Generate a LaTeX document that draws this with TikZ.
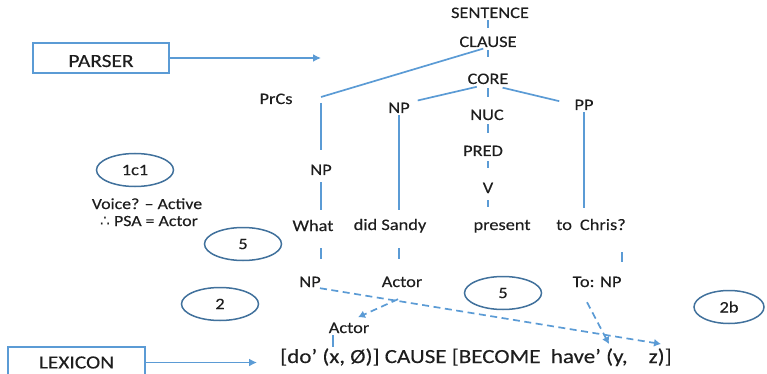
\documentclass[tikz,border=0pt]{standalone}
\usepackage{fontspec}
\setmainfont{Carlito}[FakeStretch=1.15,FakeBold=0.25]
\newfontfamily\symfont{DejaVu Sans}
\usetikzlibrary{arrows.meta,shapes.geometric}
\definecolor{lineblue}{HTML}{5B9BD5}
\definecolor{ringblue}{HTML}{41719C}
\definecolor{ink}{HTML}{1E1E1E}

\begin{document}
\begin{tikzpicture}[x=1pt,y=-1pt,
  every node/.style={text=ink, inner sep=0pt},
  lbl/.style={font=\fontsize{16}{16}\selectfont, text height=10.5pt, text depth=0pt, anchor=base},
  note/.style={font=\fontsize{15.5}{15.5}\selectfont, anchor=base},
  lsr/.style={font=\fontsize{20}{20}\selectfont, anchor=base west, text height=13pt, text depth=0pt},
  branch/.style={draw=lineblue, line width=1.7pt},
  link/.style={draw=lineblue, line width=1.7pt, dash pattern=on 7pt off 4.5pt, -{Latex[length=7pt,width=8pt]}},
  feed/.style={draw=lineblue, line width=1.7pt, -{Latex[length=8pt,width=8pt]}},
  module/.style={draw=lineblue, line width=1.6pt, minimum width=136pt, minimum height=30pt, font=\fontsize{18.6}{18.6}\selectfont},
  bubble/.style={ellipse, draw=ringblue, line width=1.5pt, minimum width=77pt, minimum height=33pt, font=\fontsize{16}{16}\selectfont},
]
\useasboundingbox (0,0) rectangle (767,374);

% tree labels
\node[lbl] (sentence) at (490,18) {SENTENCE};
\node[lbl] (clause) at (488,47) {CLAUSE};
\node[lbl] (core) at (488,84) {CORE};
\node[lbl] (np2) at (399,113) {NP};
\node[lbl] (nuc) at (487,120) {NUC};
\node[lbl] (pp) at (584,110) {PP};
\node[lbl] (pred) at (483,156) {PRED};
\node[lbl] (v) at (488,193) {V};
\node[lbl] (prcs) at (276,104) {PrCs};
\node[lbl] (np1) at (321,175) {NP};
\node[lbl] (what) at (313,231) {What};
\node[lbl] (sandy) at (390,230) {did Sandy};
\node[lbl] (present) at (502,230) {present};
\node[lbl] (chris) at (591,230) {to\hspace{8pt}Chris?};
\node[lbl] (np3) at (310,287) {NP};
\node[lbl] (actorU) at (402,287) {Actor};
\node[lbl] (tonp) at (597,287) {To: NP};
\node[lbl] (actorL) at (349,333) {Actor};
\node[lsr] (lsr) at (280,363) {[do’ (x, Ø)] CAUSE [BECOME\ \ have’ (y,\hspace{21pt}z)]};

% side notes
\node[note] (voice) at (147,209) {Voice? – Active};
\node[note] (psa) at (149,226) {{\symfont ∴} PSA = Actor};

% numbered steps
\node[bubble] (b1c1) at (135,170) {1c1};
\node[bubble] (b5a) at (243,244) {5};
\node[bubble] (b2) at (220,304) {2};
\node[bubble] (b5b) at (503,293) {5};
\node[bubble, minimum width=70pt] (b2b) at (729,307) {2b};

% modules
\node[module] (parser) at (101,58) {\raisebox{-3pt}[12pt][0pt]{PARSER}};
\node[module, minimum width=137pt, minimum height=31pt] (lexicon) at (76.5,362.5) {LEXICON};

% free ends
\coordinate (prcsjoin) at (321,97);
\coordinate (parserTip) at (321,59);
\coordinate (xarg) at (333,347);
\coordinate (yarg) at (609,344);
\coordinate (zarg) at (661,344);

% trunk
\draw[branch, shorten <=2pt, shorten >=8.5pt] (sentence.south -| clause.north) -- (clause.north);
\draw[branch, shorten <=3pt, shorten >=16.5pt] (clause.south) -- (clause.south |- core.north);
\draw[branch, shorten <=4pt, shorten >=12.5pt] (core.south) -- (core.south |- nuc.north);
\draw[branch, shorten <=4pt, shorten >=12.5pt] (core |- nuc.south) -- (core |- pred.north);
\draw[branch, shorten <=5pt, shorten >=14.5pt] (v |- pred.south) -- (v.north);
\draw[branch, shorten <=7pt, shorten >=12.5pt] (v.south) -- (v.south |- present.north);

% branches
\draw[branch, shorten <=5pt] (clause.south) -- (prcsjoin);
\draw[branch, shorten <=6pt, shorten >=14.5pt] (prcsjoin) -- (prcsjoin |- np1.north);
\draw[branch, shorten <=7pt, shorten >=10.5pt] (np1.south) -- (np1.south |- what.north);
\draw[branch, shorten <=17pt, shorten >=17.5pt] (np1 |- what.south) -- (np1 |- np3.north);
\draw[branch, shorten <=11.5pt, shorten >=8pt] (core.south) -- (np2.north east);
\draw[branch, shorten <=15pt, shorten >=15.5pt] (core.south) -- (pp.west);
\draw[branch, shorten <=2pt, shorten >=9.5pt] (np2.south) -- (np2.south |- sandy.north);
\draw[branch, shorten <=2pt, shorten >=11.5pt] (pp.south) -- (pp.south |- chris.north);
\draw[branch, shorten <=18pt, shorten >=17.5pt] (np2 |- sandy.south) -- (np2 |- actorU.north);
\draw[branch, shorten <=22pt, shorten >=14.5pt] (tonp.east |- chris.south) -- (tonp.north east);
\draw[branch, shorten <=2pt] (actorL.south -| xarg) -- (xarg);

% linking
\draw[link] ([shift={(10,1)}]np3.south) -- (zarg);
\draw[link] ([shift={(-4,12)}]actorU.south) -- ([shift={(9,-5)}]actorL.north);
\draw[link] ([shift={(-10,15)}]tonp.south) -- (yarg);

% module inputs
\draw[feed] (parser.east) -- (parser.east -| parserTip);
\draw[feed, shorten >=23pt] (lexicon.east) -- (lexicon.east -| lsr.west);
\end{tikzpicture}
\end{document}
